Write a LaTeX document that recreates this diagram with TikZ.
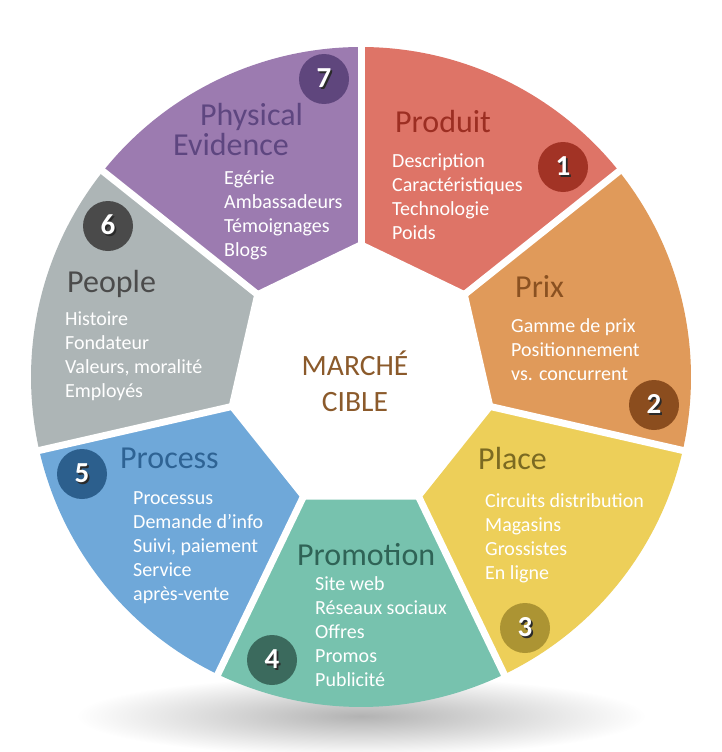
\documentclass[tikz,border=0pt]{standalone}
\usepackage{fontspec}
\setmainfont{Carlito}
\usetikzlibrary{calc}
\definecolor{cProd}{HTML}{DE7467}\definecolor{tProd}{HTML}{9C2E22}\definecolor{nProd}{HTML}{A23325}
\definecolor{cPrix}{HTML}{E09A5A}\definecolor{tPrix}{HTML}{8A5121}\definecolor{nPrix}{HTML}{8B4D1E}
\definecolor{cPlace}{HTML}{EDCF59}\definecolor{tPlace}{HTML}{7B6A22}\definecolor{nPlace}{HTML}{AC9433}
\definecolor{cPromo}{HTML}{77C2AE}\definecolor{tPromo}{HTML}{2F6356}\definecolor{nPromo}{HTML}{3B6A5D}
\definecolor{cProc}{HTML}{6FA8D9}\definecolor{tProc}{HTML}{2E6394}\definecolor{nProc}{HTML}{2C5F8D}
\definecolor{cPeop}{HTML}{ADB5B6}\definecolor{tPeop}{HTML}{4B4B4B}\definecolor{nPeop}{HTML}{4A4A4A}
\definecolor{cPhys}{HTML}{9C7BB0}\definecolor{tPhys}{HTML}{5E4680}\definecolor{nPhys}{HTML}{5F467D}
\definecolor{cMid}{HTML}{8B5A2B}
\definecolor{numShadow}{HTML}{2A2A2A}
\newcommand\itemlist[4]{%
  \foreach \t [count=\i] in {#4} {\node[body] (#1\i) at ({#2},{#3+24*(\i-1)}) {\t};}}
\newcommand\numcirc[5]{%
  \node[numc, fill=#4] (#1) at (#2,#3) {%
    \rlap{\raisebox{-1.6pt}{\hspace*{1.6pt}\textcolor{numShadow}{#5}}}\textcolor{white}{#5}};}
\begin{document}
\begin{tikzpicture}[x=1pt,y=-1pt,
  body/.style={anchor=base west, inner sep=0, text=white, font=\fontsize{20}{24}\selectfont},
  ttl/.style={anchor=base west, inner sep=0, font=\fontsize{32}{38}\selectfont},
  numc/.style={circle, minimum size=50pt, inner sep=0, font=\fontsize{29}{30}\selectfont\bfseries},
  mid/.style={anchor=base, inner sep=0, text=cMid, font=\fontsize{29.5}{36}\selectfont}]
\useasboundingbox (0,0) rectangle (722,752);
\fill[white] (0,0) rectangle (722,752);
% shadow
\shade[inner color=black!30, outer color=white] (361,716) ellipse [x radius=285, y radius=40];
\coordinate (C) at (361,377);
\def\Ro{330}
\def\Ri{136}
% segments
\foreach \k/\col in {0/cProd,1/cPrix,2/cPlace,3/cPromo,4/cProc,5/cPeop,6/cPhys}{
  \pgfmathsetmacro\aa{-90+\k*360/7}
  \pgfmathsetmacro\bb{-90+(\k+1)*360/7}
  \fill[\col] (C) -- ($(C)+(\aa:\Ro)$) arc[start angle=\aa, end angle=\bb, radius=\Ro] -- cycle;
}
% inner heptagon
\fill[white] ($(C)+(-90:\Ri)$) -- ($(C)+({-90+360/7}:\Ri)$) -- ($(C)+({-90+2*360/7}:\Ri)$)
  -- ($(C)+({-90+3*360/7}:\Ri)$) -- ($(C)+({-90+4*360/7}:\Ri)$) -- ($(C)+({-90+5*360/7}:\Ri)$)
  -- ($(C)+({-90+6*360/7}:\Ri)$) -- cycle;
% gaps
\begin{scope}
\clip (C) circle[radius=331];
\foreach \k in {0,...,6}{
  \draw[white, line width=7pt] (C) -- ($(C)+({-90+\k*360/7}:345)$);
}
\end{scope}
% centre
\node[mid] (m1) at (355,375) {MARCHÉ};
\node[mid] (m2) at (355,411) {CIBLE};
% titles
\node[ttl, text=tProd] (tProd) at (395,132) {Produit};
\node[ttl, text=tPrix] (tPrix) at (515,297) {Prix};
\node[ttl, text=tPlace] (tPlace) at (478,469) {Place};
\node[ttl, text=tPromo] (tPromo) at (297,565) {Promotion};
\node[ttl, text=tProc] (tProc) at (120,468) {Process};
\node[ttl, text=tPeop] (tPeop) at (67,292) {People};
\node[ttl, text=tPhys] (tPhys) at (200,125) {Physical};
\node[ttl, text=tPhys] (tPhys2) at (173,155) {Evidence};
% lists
\itemlist{lProd}{392}{167}{Description,Caractéristiques,Technologie,Poids}
\itemlist{lPhys}{224}{184}{Egérie,Ambassadeurs,Témoignages,Blogs}
\itemlist{lPeop}{65}{325}{Histoire,Fondateur,{Valeurs, moralité},Employés}
\itemlist{lProc}{133}{504}{Processus,Demande d’info,{Suivi, paiement},Service,après-vente}
\itemlist{lPromo}{315}{590}{Site web,Réseaux sociaux,Offres,Promos,Publicité}
\itemlist{lPrix}{511}{332}{Gamme de prix,Positionnement,vs. concurrent}
\itemlist{lPlace}{485}{507}{Circuits distribution,Magasins,Grossistes,En ligne}
% numbers
\numcirc{n1}{563}{167}{nProd}{1}
\numcirc{n2}{654}{405}{nPrix}{2}
\numcirc{n3}{525}{628}{nPlace}{3}
\numcirc{n4}{272}{660}{nPromo}{4}
\numcirc{n5}{82}{474}{nProc}{5}
\numcirc{n6}{108}{226}{nPeop}{6}
\numcirc{n7}{324}{79}{nPhys}{7}
\end{tikzpicture}
\end{document}
